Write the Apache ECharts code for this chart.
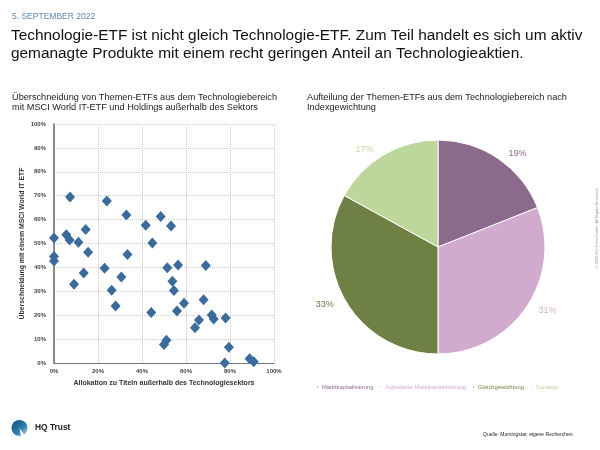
<!DOCTYPE html>
<html><head><meta charset="utf-8">
<script src="https://cdn.jsdelivr.net/npm/echarts@6/dist/echarts.min.js"></script>
<style>html,body{margin:0;padding:0;background:#fff}#c{width:600px;height:450px}</style>
</head><body><div id="c"></div>
<script>
// Scatter: allocation outside tech sector (%) vs overlap with MSCI World IT ETF (%)
const allocOutside = [0,0,0,7.3,24,32.9,41.7,5.6,7.1,14.4,11.1,15.5,33.4,48.5,53.2,44.7,23,13.5,9.1,30.6,26.2,28,44.2,51.5,56.4,69,53.8,54.5,59.1,68,55.9,71.7,72.6,78,65.9,64.1,51.1,50,79.5,77.6,88.9,90.8];
const overlapIT    = [52.3,44.6,42.7,69.5,67.8,61.9,57.6,53.7,51.5,55.9,50.5,46.3,45.4,61.3,57.3,50.2,39.6,37.7,32.9,36,30.4,23.8,21.1,39.9,41,40.8,34.2,30.3,25,26.5,21.8,20.1,18.4,18.8,18,14.8,9.5,7.7,6.6,0,1.8,0.5];
// Pie
const pieNames  = ['Marktkapitalisierung','Adjustierte Marktkapitalisierung','Gleichgewichtung','Sonstige'];
const pieValues = [19,31,33,17];
const pieColors = ['#8c6a8b','#d1abcd','#6e8043','#bdd69c'];

const FONT = 'Liberation Sans, Arial, sans-serif';
const chart = echarts.init(document.getElementById('c'));
const scatterData = allocOutside.map((x,i)=>[x, overlapIT[i]]);
chart.setOption({
  animation:false,
  textStyle:{fontFamily:FONT},
  title:[
    {text:'5. SEPTEMBER 2022', left:12, top:12, padding:0, textStyle:{fontSize:8.5, fontWeight:'normal', color:'#5b88b2', fontFamily:FONT}},
    {text:'Technologie-ETF ist nicht gleich Technologie-ETF. Zum Teil handelt es sich um aktiv\ngemanagte Produkte mit einem recht geringen Anteil an Technologieaktien.', left:11, top:27, padding:0,
     textStyle:{fontSize:15.4, lineHeight:18, fontWeight:'normal', color:'#111', fontFamily:FONT}},
    {text:'Überschneidung von Themen-ETFs aus dem Technologiebereich\nmit MSCI World IT-ETF und Holdings außerhalb des Sektors', left:12, top:92, padding:0,
     textStyle:{fontSize:9.2, lineHeight:10.5, fontWeight:'normal', color:'#222', fontFamily:FONT}},
    {text:'Aufteilung der Themen-ETFs aus dem Technologiebereich nach\nIndexgewichtung', left:307, top:92, padding:0,
     textStyle:{fontSize:9.2, lineHeight:10.5, fontWeight:'normal', color:'#222', fontFamily:FONT}},
    {text:'HQ Trust', left:35, top:424, padding:0, textStyle:{fontSize:8.4, fontWeight:'bold', color:'#222', fontFamily:FONT}},
    {text:'Quelle: Morningstar, eigene Recherchen.', left:483, top:432, padding:0, textStyle:{fontSize:5, fontWeight:'normal', color:'#222', fontFamily:FONT}}
  ],
  grid:{left:54, right:326, top:124, bottom:87},
  xAxis:{type:'value', min:0, max:100, interval:20,
    name:'Allokation zu Titeln außerhalb des Technologiesektors', nameLocation:'middle', nameGap:17,
    nameTextStyle:{fontSize:7, fontWeight:'bold', color:'#333', fontFamily:FONT},
    axisLine:{show:true, lineStyle:{color:'#777', width:1}}, axisTick:{show:false},
    axisLabel:{formatter:'{value}%', fontSize:6, fontWeight:'bold', color:'#444', margin:5},
    splitLine:{show:true, lineStyle:{color:'#ccc', type:'dotted'}}},
  yAxis:{type:'value', min:0, max:100, interval:10,
    name:'Überschneidung mit einem MSCI World IT ETF', nameLocation:'middle', nameGap:28,
    nameTextStyle:{fontSize:6.9, fontWeight:'bold', color:'#333', fontFamily:FONT},
    axisLine:{show:true, lineStyle:{color:'#666', width:1.5}}, axisTick:{show:false},
    axisLabel:{formatter:'{value}%', fontSize:6, fontWeight:'bold', color:'#444', margin:8},
    splitLine:{show:true, lineStyle:{color:'#ccc', type:'dotted'}}},
  legend:{left:315, top:379, itemWidth:3, itemHeight:3, itemGap:5, icon:'rect', padding:[5,0,5,0],
    data: pieNames.map((n,i)=>({name:n, textStyle:{color:pieColors[i]}})),
    textStyle:{fontSize:5.8, fontFamily:FONT, padding:[0,0,0,-2]}},
  series:[
    {type:'scatter', data:scatterData, symbol:'diamond', symbolSize:[10,11],
     itemStyle:{color:'#3a6b9b', opacity:1}},
    {type:'pie', center:[438,247], radius:107, startAngle:90, clockwise:true,
     data: pieNames.map((n,i)=>({name:n, value:pieValues[i], itemStyle:{color:pieColors[i]},
        label:{color:pieColors[i]}})),
     itemStyle:{borderColor:'#fff', borderWidth:1},
     label:{show:true, position:'outside', formatter:'{c}%', fontSize:9, fontFamily:FONT},
     labelLine:{show:false, length:6, length2:2}}
  ],
  graphic:[
    {type:'circle', shape:{cx:19.5, cy:428, r:8},
     style:{fill:new echarts.graphic.LinearGradient(0,0,1,1,[{offset:0,color:'#0b4e7c'},{offset:0.6,color:'#2f7fae'},{offset:1,color:'#cfe3ef'}])}},
    {type:'polygon', shape:{points:[[19.5,428],[26.5,438],[21.5,438]]}, style:{fill:'#fff'}},
    {type:'text', x:597, y:228, rotation:Math.PI/2, style:{text:'© 2022 HQ Trust GmbH. All Rights Reserved.', fontSize:4, fill:'#999', align:'center', verticalAlign:'middle', fontFamily:FONT}}
  ]
});
</script></body></html>
